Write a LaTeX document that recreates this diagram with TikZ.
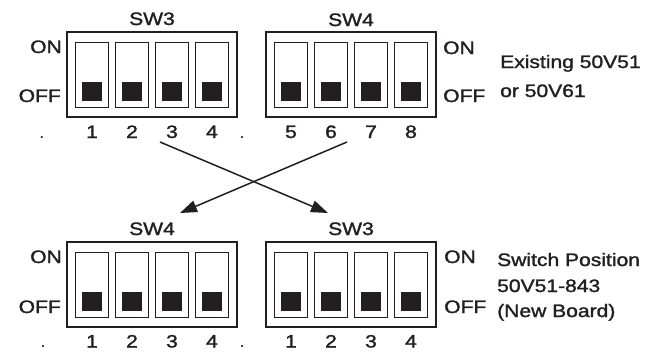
\documentclass[tikz,border=0pt]{standalone}
\usepackage{fontspec}
\setmainfont{Liberation Sans}
\usetikzlibrary{arrows.meta}
\definecolor{ink}{HTML}{231F20}
\newcommand{\wideTxt}[1]{\special{pdf:literal direct 2 Tr 0.25 w}\scalebox{1.17}[1]{#1}\special{pdf:literal direct 0 Tr}}
\begin{document}
\begin{tikzpicture}[x=1pt,y=-1pt,
  lbl/.style={inner sep=0pt, font=\fontsize{18}{21}\selectfont, text=ink},
  dipbox/.style={draw=ink, line width=1.3pt, minimum width=170pt, minimum height=85pt, inner sep=0pt},
  slot/.style={draw=ink, line width=1.2pt, minimum width=33pt, minimum height=65pt, inner sep=0pt},
  knob/.style={fill=ink, minimum width=20pt, minimum height=19pt, inner sep=0pt},
  cross/.style={draw=ink, line width=1.5pt, -{Triangle[length=17pt,width=12pt]}}]
\useasboundingbox (0,0) rectangle (647,351);
\fill[white] (0,0) rectangle (647,351);

\foreach \nm/\cx/\cy in {tl/152/74.5, tr/351/74.5, bl/152/284.5, br/351/284.5} {
  \node[dipbox] (\nm) at (\cx,\cy) {};
  \foreach \i in {1,...,4} {
    \node[slot] (\nm s\i) at ({\cx+(\i-2.5)*40},\cy+0.5) {};
    \node[knob, anchor=south] (\nm k\i) at ([yshift=7pt]\nm s\i.south) {};
  }
}

% switch titles
\node[lbl, anchor=base] (t1) at (152,25) {\wideTxt{SW3}};
\node[lbl, anchor=base] (t2) at (351,26) {\wideTxt{SW4}};
\node[lbl, anchor=base] (t3) at (152,235) {\wideTxt{SW4}};
\node[lbl, anchor=base] (t4) at (351,235) {\wideTxt{SW3}};

% ON / OFF
\node[lbl, anchor=base east] (on1) at (62,53) {\wideTxt{ON}};
\node[lbl, anchor=base east] (off1) at (61,102) {\wideTxt{OFF}};
\node[lbl, anchor=base west] (on2) at (443,54) {\wideTxt{ON}};
\node[lbl, anchor=base west] (off2) at (443,102) {\wideTxt{OFF}};
\node[lbl, anchor=base east] (on3) at (62,263) {\wideTxt{ON}};
\node[lbl, anchor=base east] (off3) at (61,313) {\wideTxt{OFF}};
\node[lbl, anchor=base west] (on4) at (444,263) {\wideTxt{ON}};
\node[lbl, anchor=base west] (off4) at (444,313) {\wideTxt{OFF}};

% numbers
\foreach \i/\t in {1/1,2/2,3/3,4/4} {
  \node[lbl, anchor=base] (ntl\i) at ({152+(\i-2.5)*40},138) {\wideTxt{\t}};
  \node[lbl, anchor=base] (nbl\i) at ({152+(\i-2.5)*40},347.5) {\wideTxt{\t}};
  \node[lbl, anchor=base] (nbr\i) at ({351+(\i-2.5)*40},347.5) {\wideTxt{\t}};
}
\foreach \i/\t in {1/5,2/6,3/7,4/8} {
  \node[lbl, anchor=base] (ntr\i) at ({351+(\i-2.5)*40},138) {\wideTxt{\t}};
}
\node[lbl, anchor=base] (d1) at (42,138) {.};
\node[lbl, anchor=base] (d2) at (242,138) {.};
\node[lbl, anchor=base] (d3) at (43,347.5) {.};
\node[lbl, anchor=base] (d4) at (242,347.5) {.};

% descriptions
\node[lbl, anchor=base west] (e1) at (500,68) {\wideTxt{Existing 50V51}};
\node[lbl, anchor=base west] (e2) at (500,97) {\wideTxt{or 50V61}};
\node[lbl, anchor=base west] (s1) at (497,266) {\wideTxt{Switch Position}};
\node[lbl, anchor=base west] (s2) at (497,292) {\wideTxt{50V51-843}};
\node[lbl, anchor=base west] (s3) at (497,317) {\wideTxt{(New Board)}};

% crossing arrows
\coordinate (a1s) at (160,142);
\coordinate (a1e) at (328,213);
\coordinate (a2s) at (347,142);
\coordinate (a2e) at (180,213);
\draw[cross] (a1s) -- (a1e);
\draw[cross] (a2s) -- (a2e);
\end{tikzpicture}
\end{document}
